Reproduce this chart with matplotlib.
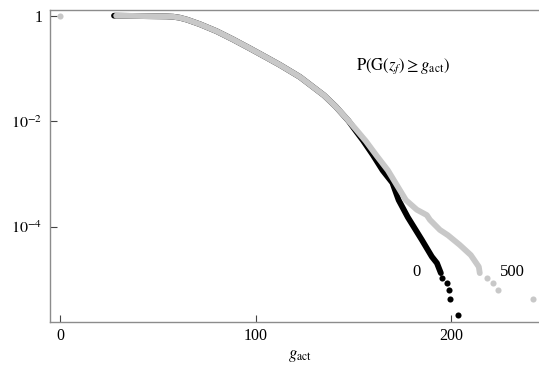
import numpy as np
import matplotlib
matplotlib.use('Agg')
import matplotlib.pyplot as plt

plt.rcParams['font.family'] = ['Liberation Serif', 'DejaVu Serif']
plt.rcParams['mathtext.fontset'] = 'stix'

# survival curve P(G >= g_act) for the "0" run: dense part and sparse tail
g_0 = [27.6, 54.6, 58.0, 61.2, 65.0, 71.5, 80.0, 88.5, 97.1, 105.0, 112.4, 122.7,
       135.0, 141.0, 147.5, 151.5, 155.0, 160.0, 165.0, 170.0, 173.2, 177.9,
       185.1, 190.2, 192.8, 194.8]
p_0 = [1.0, 0.97, 0.955, 0.916, 0.84, 0.69, 0.51, 0.355, 0.24, 0.166, 0.117, 0.069,
       0.031, 0.019, 0.0102, 0.0064, 0.0043, 2.3e-3, 1.17e-3, 6.8e-4, 3.2e-4, 1.51e-4,
       5.6e-5, 2.7e-5, 2.04e-5, 1.32e-5]
g_0_tail = [195.2, 197.7, 198.9, 199.4, 203.7]
p_0_tail = [1.06e-5, 8.5e-6, 6.4e-6, 4.3e-6, 2.1e-6]

# same for the "500" run
g_500 = [28.7, 54.6, 58.0, 61.2, 65.0, 71.5, 80.0, 88.5, 97.1, 105.0, 112.4, 122.7,
         135.0, 141.0, 146.6, 151.5, 156.4, 162.0, 167.7, 176.9, 182.5, 187.6, 189.2,
         194.3, 198.4, 204.5, 210.1, 214.2, 214.7]
p_500 = [1.0, 0.97, 0.955, 0.916, 0.84, 0.69, 0.51, 0.355, 0.24, 0.166, 0.117, 0.069,
         0.031, 0.019, 0.0112, 0.0069, 0.0042, 2.2e-3, 1.17e-3, 3.2e-4, 2.1e-4, 1.66e-4, 1.35e-4,
         8.7e-5, 6.9e-5, 4.5e-5, 2.9e-5, 1.74e-5, 1.32e-5]
g_500_tail = [0.0, 218.3, 221.4, 223.9, 241.9]
p_500_tail = [1.0, 1.07e-5, 8.5e-6, 6.3e-6, 4.3e-6]

run_labels = ['0', '500']
yticks = [1.0, 1e-2, 1e-4]
ytick_labels = ['1', r'$10^{-2}$', r'$10^{-4}$']
xticks = [0, 100, 200]

gray = '#c8c8c8'
fig = plt.figure(figsize=(5.39, 3.76), dpi=100)
ax = fig.add_axes([49.5 / 539, 54.5 / 376, 489.5 / 539, 312 / 376])

# black run underneath, gray run on top
ax.plot(g_0, p_0, '-', color='black', lw=4.2, solid_capstyle='round', zorder=2)
ax.plot(g_0_tail, p_0_tail, 'o', color='black', ms=4.4, mew=0, zorder=2)
ax.plot(g_500, p_500, '-', color=gray, lw=4.2, solid_capstyle='round', zorder=3)
ax.plot(g_500_tail, p_500_tail, 'o', color=gray, ms=4.4, mew=0, zorder=3)

ax.set_yscale('log')
ax.set_xlim(-5.4, 245.0)
ax.set_ylim(10 ** -5.797, 10 ** 0.1175)
ax.set_xticks(xticks)
ax.set_xticklabels([str(t) for t in xticks])
ax.set_yticks(yticks)
ax.set_yticklabels(ytick_labels)
ax.minorticks_off()
ax.tick_params(direction='in', length=5, width=0.8, color='#444444',
               labelsize=11.5, pad=5)

for side in ['left', 'bottom', 'top']:
    ax.spines[side].set_color('#8c8c8c')
    ax.spines[side].set_linewidth(1.0)
ax.spines['right'].set_visible(False)

ax.text(0.722, 0.819, r'$\mathrm{P(G(}z_f\mathrm{)} \geq g_{\mathrm{act}}\mathrm{)}$',
        transform=ax.transAxes, ha='center', va='center', fontsize=12)
ax.text(0.749, 0.159, run_labels[0], transform=ax.transAxes,
        ha='center', va='center', fontsize=12)
ax.text(0.946, 0.159, run_labels[1], transform=ax.transAxes,
        ha='center', va='center', fontsize=12)

fig.text(300 / 539, 1 - 356 / 376, r'$g_{\mathrm{act}}$', ha='center', va='center',
         fontsize=12)

fig.savefig('out.png', dpi=100)
